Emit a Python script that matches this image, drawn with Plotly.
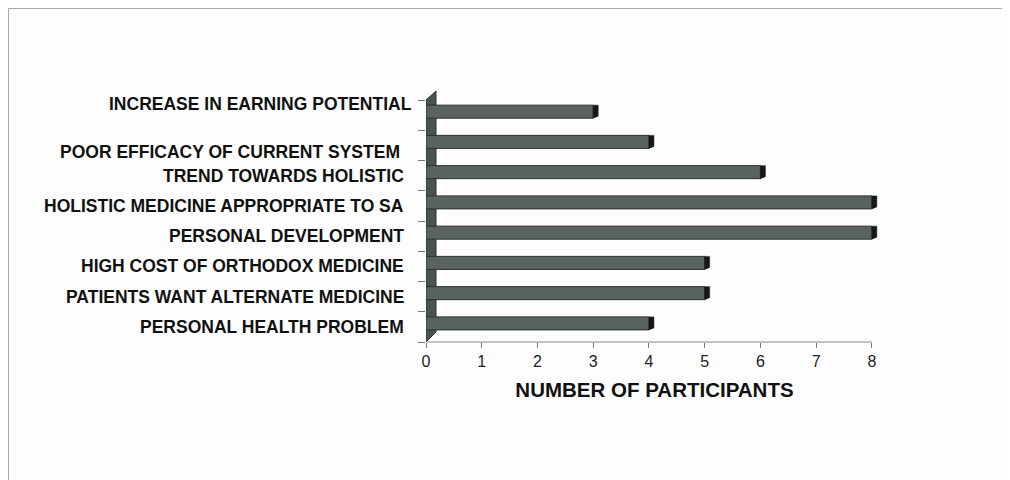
import plotly.graph_objects as go

categories = [
    "PERSONAL HEALTH PROBLEM",
    "PATIENTS WANT ALTERNATE MEDICINE",
    "HIGH COST OF ORTHODOX MEDICINE",
    "PERSONAL DEVELOPMENT",
    "HOLISTIC MEDICINE APPROPRIATE TO SA",
    "TREND TOWARDS HOLISTIC",
    "POOR EFFICACY OF CURRENT SYSTEM",
    "INCREASE IN EARNING POTENTIAL",
]
participants = [4, 5, 5, 8, 8, 6, 4, 3]
x_ticks = [0, 1, 2, 3, 4, 5, 6, 7, 8]

# label nudges (pixels) to mimic the original's slightly misplaced labels
label_yshift = [0, 0, 0, 0, 0, 0, -7, 11]
label_xshift = [-20, -20, -20, -20, -20, -20, -24, -12]

FONT = "Liberation Sans, Arial, sans-serif"
BAR = "#5b635e"

fig = go.Figure()
fig.add_trace(go.Bar(
    y=categories, x=participants, orientation="h",
    width=0.43, offset=-0.1,
    marker=dict(color=BAR, line=dict(color="#2c322e", width=1)),
    hoverinfo="x+y",
))

shapes = []
# left "3D" wall
shapes.append(dict(
    type="path", xref="x", yref="paper", xsizemode="pixel", ysizemode="pixel",
    xanchor=0, yanchor=0,
    path="M 0 0 L 0 242 L 10 251 L 10 10 Z",
    fillcolor="#4b534e", line=dict(color="#2c322e", width=1), layer="below",
))
# x axis line from 0 to the last tick
shapes.append(dict(type="line", xref="x", yref="paper", x0=x_ticks[0], x1=x_ticks[-1], y0=0, y1=0,
                   line=dict(color="#888888", width=1)))
# dark end caps of bars
for i, v in enumerate(participants):
    shapes.append(dict(
        type="path", xref="x", yref="y", xsizemode="pixel", ysizemode="pixel",
        xanchor=v, yanchor=i,
        path="M 0 -3 L 5 -1 L 5 10 L 0 10 Z",
        fillcolor="#151815", line=dict(color="#151815", width=0.5), layer="above",
    ))
# page frame (left, top, right)
for (x0, y0, x1, y1) in [(-0.9136, -0.7, -0.9136, 1.378), (-0.9136, 1.378, 1.2626, 1.378), (1.2626, 1.378, 1.2626, -0.7)]:
    shapes.append(dict(type="line", xref="paper", yref="paper", x0=x0, y0=y0, x1=x1, y1=y1,
                       line=dict(color="#a8a8a8", width=1)))

annotations = []
for i, c in enumerate(categories):
    annotations.append(dict(
        x=0, xref="paper", y=c, yref="y", text=c, showarrow=False,
        xanchor="right", yanchor="middle",
        xshift=label_xshift[i], yshift=label_yshift[i],
        font=dict(family=FONT, size=17.5, color="#111111", weight="bold"),
    ))

fig.update_layout(
    width=1010, height=480,
    margin=dict(l=418, r=135, t=92, b=146),
    paper_bgcolor="#fdfdfd", plot_bgcolor="#fdfdfd",
    showlegend=False,
    shapes=shapes,
    annotations=annotations,
    xaxis=dict(
        range=[0, 8.2], tickvals=x_ticks, ticks="outside", ticklen=5, tickcolor="#777777",
        showline=False, showgrid=False, zeroline=False,
        tickfont=dict(family=FONT, size=16, color="#222222"),
        title=dict(text="NUMBER OF PARTICIPANTS", standoff=13,
                   font=dict(family=FONT, size=20.5, color="#111111", weight="bold")),
    ),
    yaxis=dict(
        type="category", categoryorder="array", categoryarray=categories,
        range=[-0.5, 7.5], tickson="boundaries", ticks="outside", ticklen=7,
        tickcolor="#777777", showticklabels=False, showline=False, showgrid=False,
        zeroline=False,
    ),
)

fig.write_html("out.html")
